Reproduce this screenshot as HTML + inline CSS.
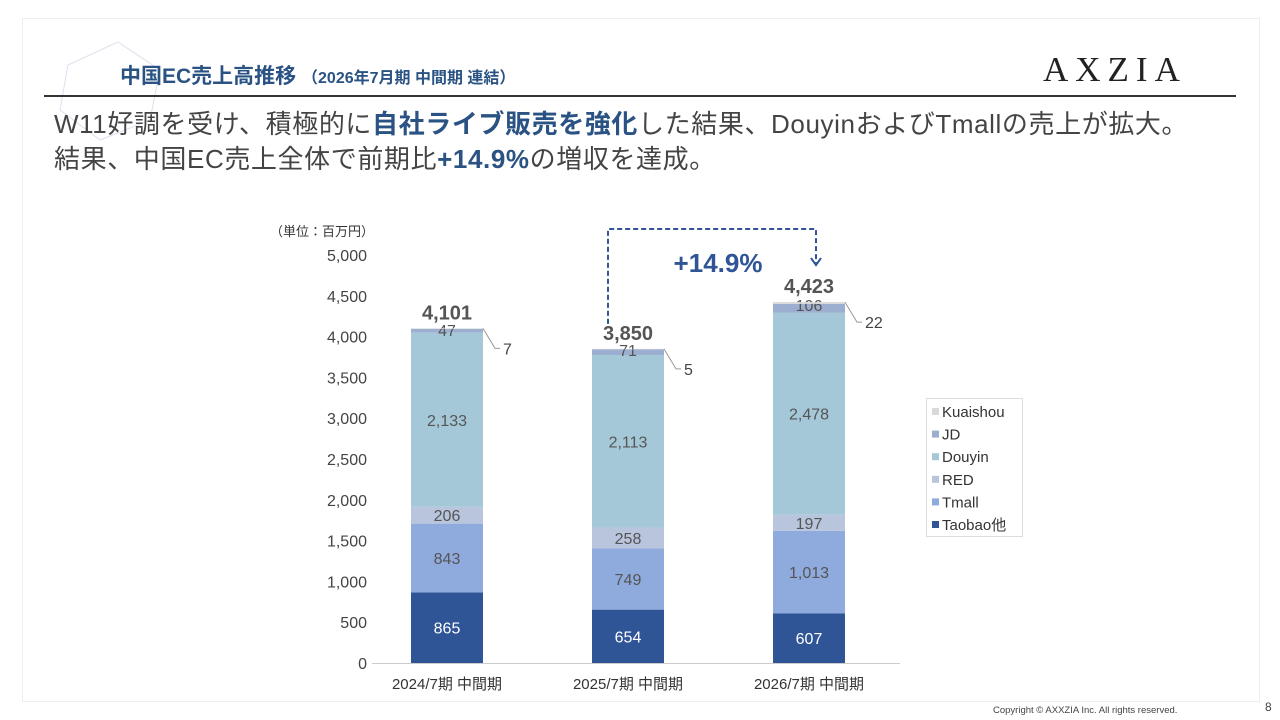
<!DOCTYPE html>
<html><head><meta charset="utf-8">
<style>
body{margin:0;width:1280px;height:720px;background:#fff;overflow:hidden;font-family:"Liberation Sans","Noto Sans CJK JP",sans-serif;}
.frame{position:absolute;left:22px;top:18px;width:1236px;height:682px;border:1px solid #eee;}
.title{position:absolute;left:120px;top:60px;font-size:21px;font-weight:bold;color:#2a5384;}
.title span{font-size:16px;}
.logo{position:absolute;left:1043px;top:50px;font-family:"Liberation Serif",serif;font-size:35px;letter-spacing:7px;color:#222;}
.rule{position:absolute;left:44px;top:95px;width:1192px;height:2px;background:#333;}
.head{position:absolute;left:54px;top:107px;font-size:26px;color:#444;line-height:35px;letter-spacing:0.6px;}
.head b{color:#2a5384;}
.copy{position:absolute;left:993px;top:705px;font-size:9.5px;color:#444;}
.pg{position:absolute;left:1265px;top:700px;font-size:12px;color:#444;}
</style></head><body>
<div class="frame"></div>
<svg style="position:absolute;left:0;top:0" width="200" height="220"><polygon points="118,42 160,70 150,120 100,140 60,110 68,65" fill="none" stroke="#dde0ee" stroke-width="1"/></svg>
<div class="title">中国EC売上高推移 <span>（2026年7月期 中間期 連結）</span></div>
<div class="logo">AXZIA</div>
<div class="rule"></div>
<div class="head">W11好調を受け、積極的に<b>自社ライブ販売を強化</b>した結果、DouyinおよびTmallの売上が拡大。<br>結果、中国EC売上全体で前期比<b>+14.9%</b>の増収を達成。</div>
<svg id="chart" style="position:absolute;left:0;top:0" width="1280" height="720"></svg>
<div class="copy">Copyright © AXXZIA Inc. All rights reserved.</div>
<div class="pg">8</div>
<script>
const categories=["2024/7期 中間期","2025/7期 中間期","2026/7期 中間期"];
const seriesNames=["Taobao他","Tmall","RED","Douyin","JD","Kuaishou"];
const taobao=[865,654,607];
const tmall=[843,749,1013];
const red=[206,258,197];
const douyin=[2133,2113,2478];
const jd=[47,71,106];
const kuaishou=[7,5,22];
const totals=[4101,3850,4423];
const yTicks=[0,500,1000,1500,2000,2500,3000,3500,4000,4500,5000];
const colors=["#2f5597","#8faadc","#b8c5dc","#a4c8d8","#9dafd0","#d9d9d9"];
const svg=document.getElementById('chart');const NS="http://www.w3.org/2000/svg";
const y=v=>663-v*408/5000;const xc=i=>447+i*181;const bw=72;
function mk(t,a,txt){const e=document.createElementNS(NS,t);for(const k in a)e.setAttribute(k,a[k]);if(txt!=null)e.textContent=txt;svg.appendChild(e);return e;}
const F='"Liberation Sans","Noto Sans CJK JP",sans-serif';
let e=mk('text',{x:270,y:236,'font-size':13,fill:'#333','font-family':F},'（単位：百万円）');

yTicks.forEach(t=>{const l=mk('text',{x:367,y:y(t)+6,'text-anchor':'end','font-size':16,fill:'#444','font-family':F},t.toLocaleString());
});
e=mk('line',{x1:372,x2:900,y1:663.5,y2:663.5,stroke:'#ccc'});

const all=[taobao,tmall,red,douyin,jd,kuaishou];
categories.forEach((c,i)=>{let cum=0;
 all.forEach((s,k)=>{const v=s[i];const r=mk('rect',{x:xc(i)-bw/2,y:y(cum+v),width:bw,height:y(cum)-y(cum+v),fill:colors[k]});
  
  if(k<5){const ty=k==4?y(cum+v)+7:(y(cum)+y(cum+v))/2+6;
   const t=mk('text',{x:xc(i),y:ty,'text-anchor':'middle','font-size':16,fill:k==0?'#fff':'#555','font-family':F},s[i].toLocaleString());
   }
  else{const ly=y(cum+v);const p=mk('polyline',{points:`${xc(i)+bw/2},${ly} ${xc(i)+bw/2+12},${ly+20} ${xc(i)+bw/2+17},${ly+20}`,fill:'none',stroke:'#999'});
   
   const t=mk('text',{x:xc(i)+bw/2+20,y:ly+26,'font-size':16,fill:'#444','font-family':F},v);
   }
  cum+=v;});
 const tt=mk('text',{x:xc(i),y:y(cum)-9,'text-anchor':'middle','font-size':20,'font-weight':'bold',fill:'#555','font-family':F},totals[i].toLocaleString());
 
 const xl=mk('text',{x:xc(i),y:689,'text-anchor':'middle','font-size':15,fill:'#333','font-family':F},c);
 });
e=mk('polyline',{points:`${xc(1)-20},${y(totals[1])-25} ${xc(1)-20},229 ${xc(2)+7},229 ${xc(2)+7},${y(totals[2])-38}`,fill:'none',stroke:'#2f5597','stroke-width':2,'stroke-dasharray':'5,3'});

e=mk('polyline',{points:`${xc(2)+2},${y(totals[2])-44} ${xc(2)+7},${y(totals[2])-37} ${xc(2)+12},${y(totals[2])-44}`,fill:'none',stroke:'#2f5597','stroke-width':2});

e=mk('text',{x:718,y:272,'text-anchor':'middle','font-size':26,'font-weight':'bold',fill:'#2f5597','font-family':F},'+14.9%');

e=mk('rect',{x:926.5,y:398.5,width:96,height:138,fill:'#fff',stroke:'#ddd'});

for(let k=5;k>=0;k--){const row=5-k;const ly=412+row*22.6;
 const s=mk('rect',{x:932,y:ly-4,width:7,height:7,fill:colors[k]});
 
 const t=mk('text',{x:942,y:ly+5,'font-size':15,fill:'#333','font-family':F},seriesNames[k]);
 }
</script>
</body></html>
